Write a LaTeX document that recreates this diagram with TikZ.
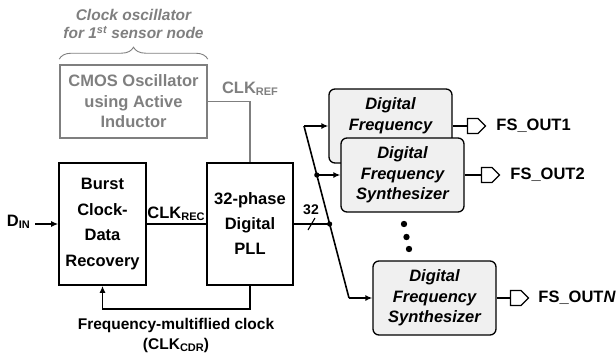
\documentclass[tikz,border=0pt]{standalone}
\usepackage{fontspec}
\setmainfont{Liberation Sans}
\usetikzlibrary{arrows.meta,shapes.symbols,decorations.pathreplacing,calc}
\definecolor{gtxt}{HTML}{7F7F7F}
\definecolor{fsfill}{HTML}{F0F0F0}
\newcommand{\sbs}[1]{\raisebox{-2pt}{\fontsize{11}{11}\selectfont #1}}
\begin{document}
\begin{tikzpicture}[x=1pt,y=-1pt,
  every node/.style={font=\fontsize{16.5}{20.5}\selectfont\bfseries, inner sep=0pt},
  blk/.style={draw, line width=1.6pt, align=center},
  fsbox/.style={draw, line width=1.3pt, rounded corners=6pt, fill=fsfill,
    minimum width=123pt, minimum height=74pt, align=center,
    font=\fontsize{16.5}{20.5}\selectfont\bfseries\itshape},
  outsig/.style={signal, signal to=east, draw, line width=1.2pt,
    minimum width=18pt, minimum height=15pt, inner sep=0pt},
  wire/.style={line width=1.6pt},
  arr/.style={wire, -{Latex[length=7pt,width=6pt]}},
  small/.style={font=\fontsize{15.5}{18}\selectfont\bfseries}
]
\useasboundingbox (0,0) rectangle (616,356);

% oscillator
\node[blk, draw=gtxt, text=gtxt, minimum width=147pt, minimum height=73pt] (cmos) at (133.5,101.5) {CMOS Oscillator\\using Active\\Inductor};
\node[small, font=\fontsize{15.5}{18}\selectfont\bfseries\itshape, text=gtxt, align=center] (osclbl) at (133.5,24) {Clock oscillator\\for 1\textsuperscript{st} sensor node};
\draw[gtxt, line width=0.9pt, decorate, decoration={brace, amplitude=12pt}] ([yshift=5pt]cmos.north west) -- ([yshift=5pt]cmos.north east);

% main blocks
\node[blk, minimum width=87pt, minimum height=122pt, font=\fontsize{16.5}{25.5}\selectfont\bfseries] (cdr) at (102.5,224) {Burst\\Clock-\\Data\\Recovery};
\node[blk, minimum width=86pt, minimum height=122pt, font=\fontsize{16.5}{25}\selectfont\bfseries] (pll) at (250,224) {32-phase\\Digital\\PLL};

% input
\node[anchor=east] (din) at (30,222) {D\sbs{IN}};
\coordinate (dinS) at (35,224);
\draw[arr, line width=1.3pt] (dinS) -- (cdr.west);

% CLK_REC
\draw[wire] (cdr.east) -- (pll.west);
\node (clkrec) at (176,214) {CLK\sbs{REC}};

% CLK_REF
\draw[wire, gtxt] (cmos.east) -| (pll.north);
\node[text=gtxt] (clkref) at (250,89) {CLK\sbs{REF}};

% feedback
\draw[arr] (pll.south) -- ++(0,23) -| (cdr.south);
\node[small] (fmc) at (176,325) {Frequency-multiflied clock};
\node[small] (clkcdr) at (176,345) {(CLK\sbs{CDR})};

% synthesizers
\node[fsbox] (fs1) at (390.5,126) {Digital\\Frequency\\\phantom{Synthesizer}};
\node[fsbox] (fs2) at (402.5,175) {Digital\\Frequency\\Synthesizer};
\node[fsbox] (fsN) at (434.5,298) {Digital\\Frequency\\Synthesizer};

% bus
\coordinate (btop) at (304,126);
\coordinate (bbot) at (349,298);
\coordinate (far2) at ($(fs2.west)+(-100,0)$);
\coordinate (far3) at ($(pll.east)+(100,0)$);
\coordinate (j2) at (intersection of btop--bbot and fs2.west--far2);
\coordinate (j3) at (intersection of btop--bbot and pll.east--far3);
\draw[wire] (btop) -- (bbot);
\draw[arr] (btop) -- (fs1.west);
\draw[arr] (bbot) -- (fsN.west);
\draw[arr] (j2) -- (fs2.west);
\draw[wire] (pll.east) -- (j3);
\fill (j2) circle (2.6);
\fill (j3) circle (2.6);
\coordinate (bus32) at (311.5,224);
\draw[line width=1.1pt] ($(bus32)+(-3.5,6)$) -- ($(bus32)+(3.5,-6)$);
\node[font=\fontsize{14}{14}\selectfont\bfseries] (n32) at (311,210) {32};

% ellipsis
\fill (404,224) circle (3.2);
\fill (406.5,237) circle (3.2);
\fill (409,249) circle (3.2);

% outputs
\node[outsig] (s1) at ($(fs1.east)+(20,0)$) {};
\node[outsig] (s2) at ($(fs2.east)+(22,0)$) {};
\node[outsig] (sN) at ($(fsN.east)+(19,0)$) {};
\draw[line width=1.2pt] (fs1.east) -- (s1.west);
\draw[line width=1.2pt] (fs2.east) -- (s2.west);
\draw[line width=1.2pt] (fsN.east) -- (sN.west);
\node[anchor=west] (o1) at ($(s1.east)+(10,0)$) {FS\_OUT1};
\node[anchor=west] (o2) at ($(s2.east)+(10,0)$) {FS\_OUT2};
\node[anchor=west] (oN) at ($(sN.east)+(9,0)$) {FS\_OUT\textit{N}};
\end{tikzpicture}
\end{document}
